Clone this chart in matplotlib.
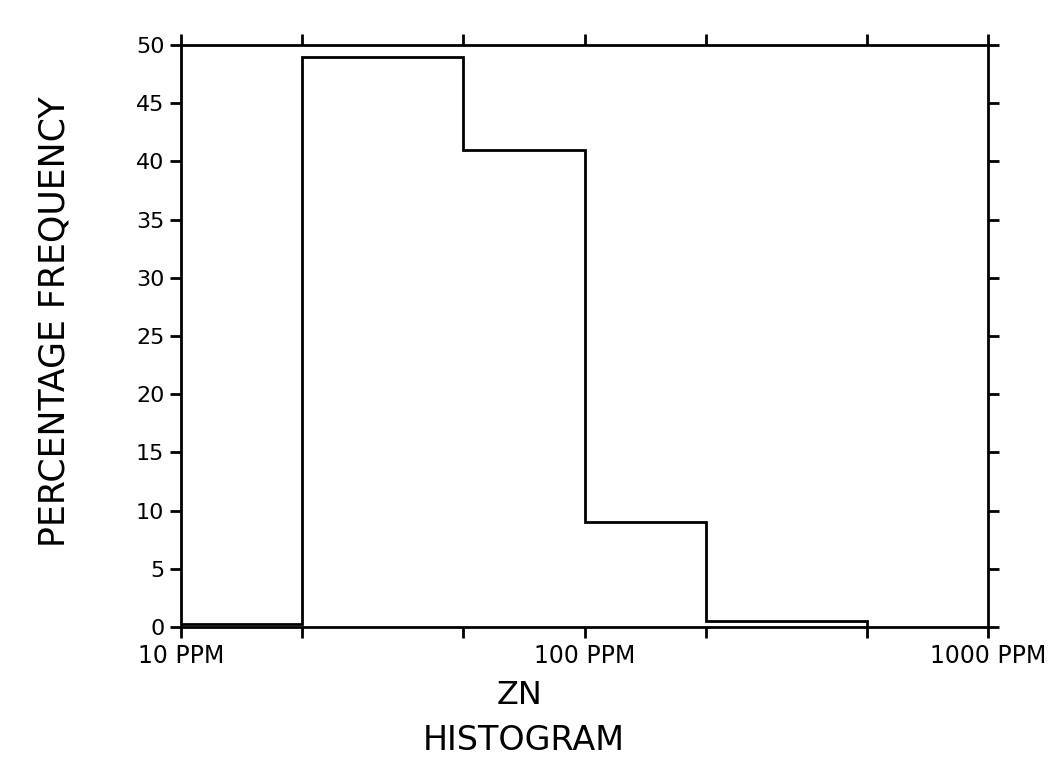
import numpy as np
import matplotlib.pyplot as plt
from matplotlib.ticker import FixedLocator, FixedFormatter, NullLocator

# ZN histogram, log bins in PPM
bin_edges = [10, 20, 50, 100, 200, 500]
percent = [0.3, 49, 41, 9, 0.5]

x_ticks = [10, 20, 50, 100, 200, 500, 1000]
x_labels = ["10 PPM", "", "", "100 PPM", "", "", "1000 PPM"]
y_ticks = list(range(0, 55, 5))

plt.rcParams['font.family'] = ['DejaVu Sans']

fig = plt.figure(figsize=(10.48, 7.59), dpi=100)
ax = fig.add_axes([181 / 1048, 1 - 627 / 759, (988 - 181) / 1048, (627 - 45) / 759])

ax.stairs(percent, bin_edges, color="black", linewidth=2)

ax.set_xscale("log")
ax.set_xlim(10, 1000)
ax.set_ylim(0, 50)

ax.xaxis.set_major_locator(FixedLocator(x_ticks))
ax.xaxis.set_major_formatter(FixedFormatter(x_labels))
ax.xaxis.set_minor_locator(NullLocator())
ax.set_yticks(y_ticks)

for s in ax.spines.values():
    s.set_linewidth(2)

ax.tick_params(axis="both", direction="out", length=8, width=2,
               top=True, right=True, labelright=False, labeltop=False)
ax.tick_params(axis="x", pad=4, labelsize=17)
ax.tick_params(axis="y", pad=4, labelsize=16)

# y label sits a bit above the axes centre in the original
fig.text(55 / 1048, 1 - 322 / 759, "PERCENTAGE FREQUENCY", fontsize=25,
         rotation=90, ha="center", va="center")
fig.text(519 / 1048, 1 - 696 / 759, "ZN", fontsize=23, ha="center", va="center")
fig.text(524 / 1048, 1 - 741 / 759, "HISTOGRAM", fontsize=24, ha="center", va="center")

fig.savefig("out.png", dpi=100)
